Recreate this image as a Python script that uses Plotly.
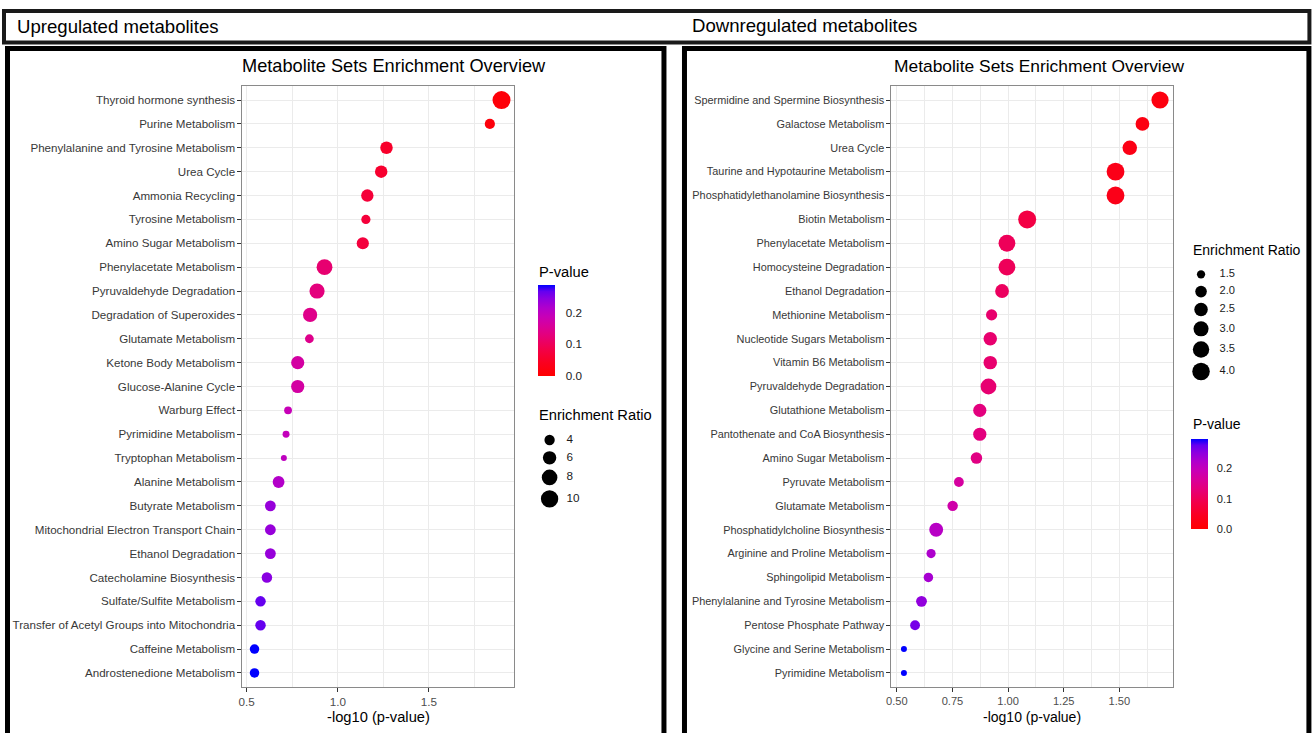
import numpy as np
import plotly.graph_objects as go

W, H = 1316, 733

# ---------------- data ----------------
up_sets = [
    "Thyroid hormone synthesis", "Purine Metabolism",
    "Phenylalanine and Tyrosine Metabolism", "Urea Cycle", "Ammonia Recycling",
    "Tyrosine Metabolism", "Amino Sugar Metabolism", "Phenylacetate Metabolism",
    "Pyruvaldehyde Degradation", "Degradation of Superoxides",
    "Glutamate Metabolism", "Ketone Body Metabolism", "Glucose-Alanine Cycle",
    "Warburg Effect", "Pyrimidine Metabolism", "Tryptophan Metabolism",
    "Alanine Metabolism", "Butyrate Metabolism",
    "Mitochondrial Electron Transport Chain", "Ethanol Degradation",
    "Catecholamine Biosynthesis", "Sulfate/Sulfite Metabolism",
    "Transfer of Acetyl Groups into Mitochondria", "Caffeine Metabolism",
    "Androstenedione Metabolism",
]
up_neglog10p = [1.898, 1.834, 1.267, 1.238, 1.162, 1.154, 1.137, 0.927, 0.886,
                0.848, 0.844, 0.780, 0.780, 0.727, 0.716, 0.704, 0.675, 0.630,
                0.630, 0.630, 0.611, 0.576, 0.576, 0.543, 0.543]
up_ratio = [10.8, 3.96, 5.29, 5.29, 5.2, 3.55, 5.08, 8.2, 7.59, 6.64, 3.42,
            5.81, 5.81, 3.18, 3.05, 3.0, 4.82, 4.25, 4.25, 4.25, 4.1, 4.1,
            4.1, 3.66, 3.66]

down_sets = [
    "Spermidine and Spermine Biosynthesis", "Galactose Metabolism", "Urea Cycle",
    "Taurine and Hypotaurine Metabolism", "Phosphatidylethanolamine Biosynthesis",
    "Biotin Metabolism", "Phenylacetate Metabolism", "Homocysteine Degradation",
    "Ethanol Degradation", "Methionine Metabolism", "Nucleotide Sugars Metabolism",
    "Vitamin B6 Metabolism", "Pyruvaldehyde Degradation", "Glutathione Metabolism",
    "Pantothenate and CoA Biosynthesis", "Amino Sugar Metabolism",
    "Pyruvate Metabolism", "Glutamate Metabolism",
    "Phosphatidylcholine Biosynthesis", "Arginine and Proline Metabolism",
    "Sphingolipid Metabolism", "Phenylalanine and Tyrosine Metabolism",
    "Pentose Phosphate Pathway", "Glycine and Serine Metabolism",
    "Pyrimidine Metabolism",
]
down_neglog10p = [1.683, 1.604, 1.547, 1.483, 1.483, 1.086, 0.995, 0.995, 0.973,
                  0.926, 0.920, 0.920, 0.912, 0.873, 0.873, 0.858, 0.779, 0.751,
                  0.677, 0.654, 0.642, 0.611, 0.582, 0.532, 0.532]
down_ratio = [3.84, 2.58, 2.81, 4.11, 4.11, 4.2, 3.67, 3.67, 2.58, 1.93, 2.49,
              2.49, 3.27, 2.41, 2.41, 1.99, 1.68, 1.79, 2.6, 1.6, 1.64, 1.85,
              1.68, 1.4, 1.4]

up_ratio_breaks = [4, 6, 8, 10]
up_ratio_labels = ["4", "6", "8", "10"]
down_ratio_breaks = [1.5, 2.0, 2.5, 3.0, 3.5, 4.0]
down_ratio_labels = ["1.5", "2.0", "2.5", "3.0", "3.5", "4.0"]
pvalue_ticks = [0.0, 0.1, 0.2]
pvalue_ticktext = ["0.0", "0.1", "0.2"]

FONT = "Liberation Sans, Arial, Helvetica, sans-serif"

# red (low p) -> blue (high p) gradient
red_blue = [
    [0.00, "#ff0000"], [0.15, "#fa0020"], [0.30, "#f2004a"],
    [0.45, "#e4007c"], [0.55, "#d8009a"], [0.65, "#c800b6"],
    [0.75, "#b000cc"], [0.85, "#8c00e0"], [0.93, "#6400f0"],
    [1.00, "#0000ff"],
]


# ---------------- helpers ----------------
def fx(px):
    # page pixel -> paper fraction (horizontal)
    return ((px - 7.5) / 0.9955) / W


def fy(py):
    return 1 - py / H


def size_mapper(values, dmin=6.0, dmax=18.0):
    lo, hi = min(values), max(values)

    def f(v):
        t = (np.asarray(v, float) - lo) / (hi - lo)
        return dmin + (dmax - dmin) * np.sqrt(np.clip(t, 0, 1))
    return f


def expanded(vals, mult=0.05):
    lo, hi = min(vals), max(vals)
    r = hi - lo
    return [lo - mult * r, hi + mult * r]


fig = go.Figure()

panels = [
    dict(sets=up_sets, x=up_neglog10p, ratio=up_ratio, xa="x", ya="y",
         cax="coloraxis", breaks=up_ratio_breaks, blabels=up_ratio_labels,
         lx="x3", ly="y3", key_x=551.7, key_y0=440, lab_dx=16.8, txt=11.7),
    dict(sets=down_sets, x=down_neglog10p, ratio=down_ratio, xa="x2", ya="y2",
         cax="coloraxis2", breaks=down_ratio_breaks, blabels=down_ratio_labels,
         lx="x4", ly="y4", key_x=1202.7, key_y0=274.3, lab_dx=18.5, txt=11.1),
]

for p in panels:
    pvals = [10 ** (-v) for v in p["x"]]
    sz = size_mapper(p["ratio"])
    p["pmax"] = max(pvals)
    fig.add_trace(go.Scatter(
        x=p["x"], y=p["sets"], mode="markers", xaxis=p["xa"], yaxis=p["ya"],
        marker=dict(size=sz(p["ratio"]), color=pvals, coloraxis=p["cax"],
                    line=dict(width=0), opacity=1),
        showlegend=False, hoverinfo="skip"))

    # size legend: stacked keys whose height grows with the point size,
    # drawn on hidden axes whose ranges are page pixels
    d = sz(p["breaks"])
    h = np.maximum(17.3, d + 5)
    ky = [p["key_y0"]]
    for i in range(1, len(d)):
        ky.append(ky[-1] + (h[i - 1] + h[i]) / 2)
    fig.add_trace(go.Scatter(
        x=[p["key_x"]] * len(ky), y=ky, mode="markers",
        xaxis=p["lx"], yaxis=p["ly"],
        marker=dict(size=d, color="#000000", opacity=1, line=dict(width=0)),
        showlegend=False, hoverinfo="skip"))
    fig.add_trace(go.Scatter(
        x=[p["key_x"] + p["lab_dx"]] * len(ky), y=ky, mode="text",
        text=p["blabels"], textposition="middle right",
        xaxis=p["lx"], yaxis=p["ly"],
        textfont=dict(family=FONT, size=p["txt"], color="#1a1a1a"),
        showlegend=False, hoverinfo="skip"))

plot_top, plot_bottom = 85.7, 687.3
left_x = (244.5, 516.0)
right_x = (893.0, 1174.5)


def y_axis(size, cats, domain_anchor):
    return dict(
        type="category", showline=True, mirror=True, linecolor="#8a8a8a",
        linewidth=1, showgrid=True, gridcolor="#EBEBEB", gridwidth=1.1,
        ticks="outside", ticklen=3.7, tickcolor="#333333", tickwidth=1,
        tickfont=dict(family=FONT, size=size, color="#383838"),
        zeroline=False, range=[24.6, -0.6], fixedrange=True,
        domain=[fy(plot_bottom), fy(plot_top)], anchor=domain_anchor,
        categoryorder="array", categoryarray=cats)


def x_axis(size, xs, span, anchor, vals, texts, minor_step):
    return dict(
        showline=True, mirror=True, linecolor="#8a8a8a", linewidth=1,
        showgrid=True, gridcolor="#EBEBEB", gridwidth=1.1,
        ticks="outside", ticklen=3.7, tickcolor="#333333", tickwidth=1,
        tickfont=dict(family=FONT, size=size, color="#4D4D4D"),
        zeroline=False, fixedrange=True,
        domain=[fx(span[0]), fx(span[1])], anchor=anchor,
        range=expanded(xs), tickvals=vals, ticktext=texts,
        minor=dict(dtick=minor_step, tick0=0, showgrid=True,
                   gridcolor="#EBEBEB", gridwidth=0.7))


legend_axis = dict(visible=False, fixedrange=True, showgrid=False, zeroline=False)


def colorbar(x, y_top, length, ticklen, size):
    return dict(x=fx(x), xanchor="left", y=fy(y_top), yanchor="top",
                len=length, lenmode="pixels", thickness=17,
                thicknessmode="pixels", xpad=0, ypad=0, outlinewidth=0,
                tickvals=pvalue_ticks, ticktext=pvalue_ticktext,
                ticks="outside", ticklen=ticklen, tickcolor="rgba(0,0,0,0)",
                tickfont=dict(family=FONT, size=size, color="#1a1a1a"),
                title=dict(text=""))


fig.update_layout(
    width=W, height=H, autosize=False,
    margin=dict(l=0, r=0, t=0, b=0, pad=0),
    paper_bgcolor="white", plot_bgcolor="white",
    font=dict(family=FONT, color="black"),
    xaxis=x_axis(11.7, up_neglog10p, left_x, "y", [0.5, 1.0, 1.5],
                 ["0.5", "1.0", "1.5"], 0.25),
    yaxis=y_axis(11.6, up_sets, "x"),
    xaxis2=x_axis(11.1, down_neglog10p, right_x, "y2",
                  [0.5, 0.75, 1.0, 1.25, 1.5],
                  ["0.50", "0.75", "1.00", "1.25", "1.50"], 0.125),
    yaxis2=y_axis(10.9, down_sets, "x2"),
    xaxis3=dict(legend_axis, domain=[fx(530), fx(620)], range=[530, 620], anchor="y3"),
    yaxis3=dict(legend_axis, domain=[fy(520), fy(425)], range=[520, 425], anchor="x3"),
    xaxis4=dict(legend_axis, domain=[fx(1185), fx(1275)], range=[1185, 1275], anchor="y4"),
    yaxis4=dict(legend_axis, domain=[fy(395), fy(260)], range=[395, 260], anchor="x4"),
    coloraxis=dict(cmin=0, cmax=panels[0]["pmax"], colorscale=red_blue,
                   colorbar=colorbar(540, 285, 91, 9, 11.7)),
    coloraxis2=dict(cmin=0, cmax=panels[1]["pmax"], colorscale=red_blue,
                    colorbar=colorbar(1192.7, 439.3, 90, 7, 11.1)),
)

# frames around the header and the two panels
frame = dict(type="rect", xref="paper", yref="paper", fillcolor="rgba(0,0,0,0)",
             layer="above")
fig.add_shape(frame, x0=fx(6.5), x1=fx(1311), y0=fy(42.5), y1=fy(11),
              line=dict(color="#1a1a1a", width=4))
fig.add_shape(frame, x0=fx(10), x1=fx(666), y0=fy(745), y1=fy(48.5),
              line=dict(color="black", width=5))
fig.add_shape(frame, x0=fx(686.5), x1=fx(1310.5), y0=fy(745), y1=fy(48.5),
              line=dict(color="black", width=5))


def note(text, x, y, size, xanchor="left", color="black"):
    fig.add_annotation(text=text, x=fx(x), y=fy(y), xref="paper", yref="paper",
                       xanchor=xanchor, yanchor="middle", showarrow=False,
                       font=dict(family=FONT, size=size, color=color))


note("Upregulated metabolites", 17.5, 27, 18.6)
note("Downregulated metabolites", 692.5, 26, 18.6)
note("Metabolite Sets Enrichment Overview", 242.5, 66, 18.2)
note("Metabolite Sets Enrichment Overview", 894, 66, 17.4)
note("-log10 (p-value)", (left_x[0] + left_x[1]) / 2, 717, 14.7, xanchor="center")
note("-log10 (p-value)", (right_x[0] + right_x[1]) / 2, 717, 14.0, xanchor="center")
note("P-value", 539.5, 271.5, 14.7)
note("Enrichment Ratio", 539.5, 415, 14.7)
note("Enrichment Ratio", 1192.5, 250, 14.0)
note("P-value", 1192.5, 424, 14.0)

fig.write_html("out.html")
